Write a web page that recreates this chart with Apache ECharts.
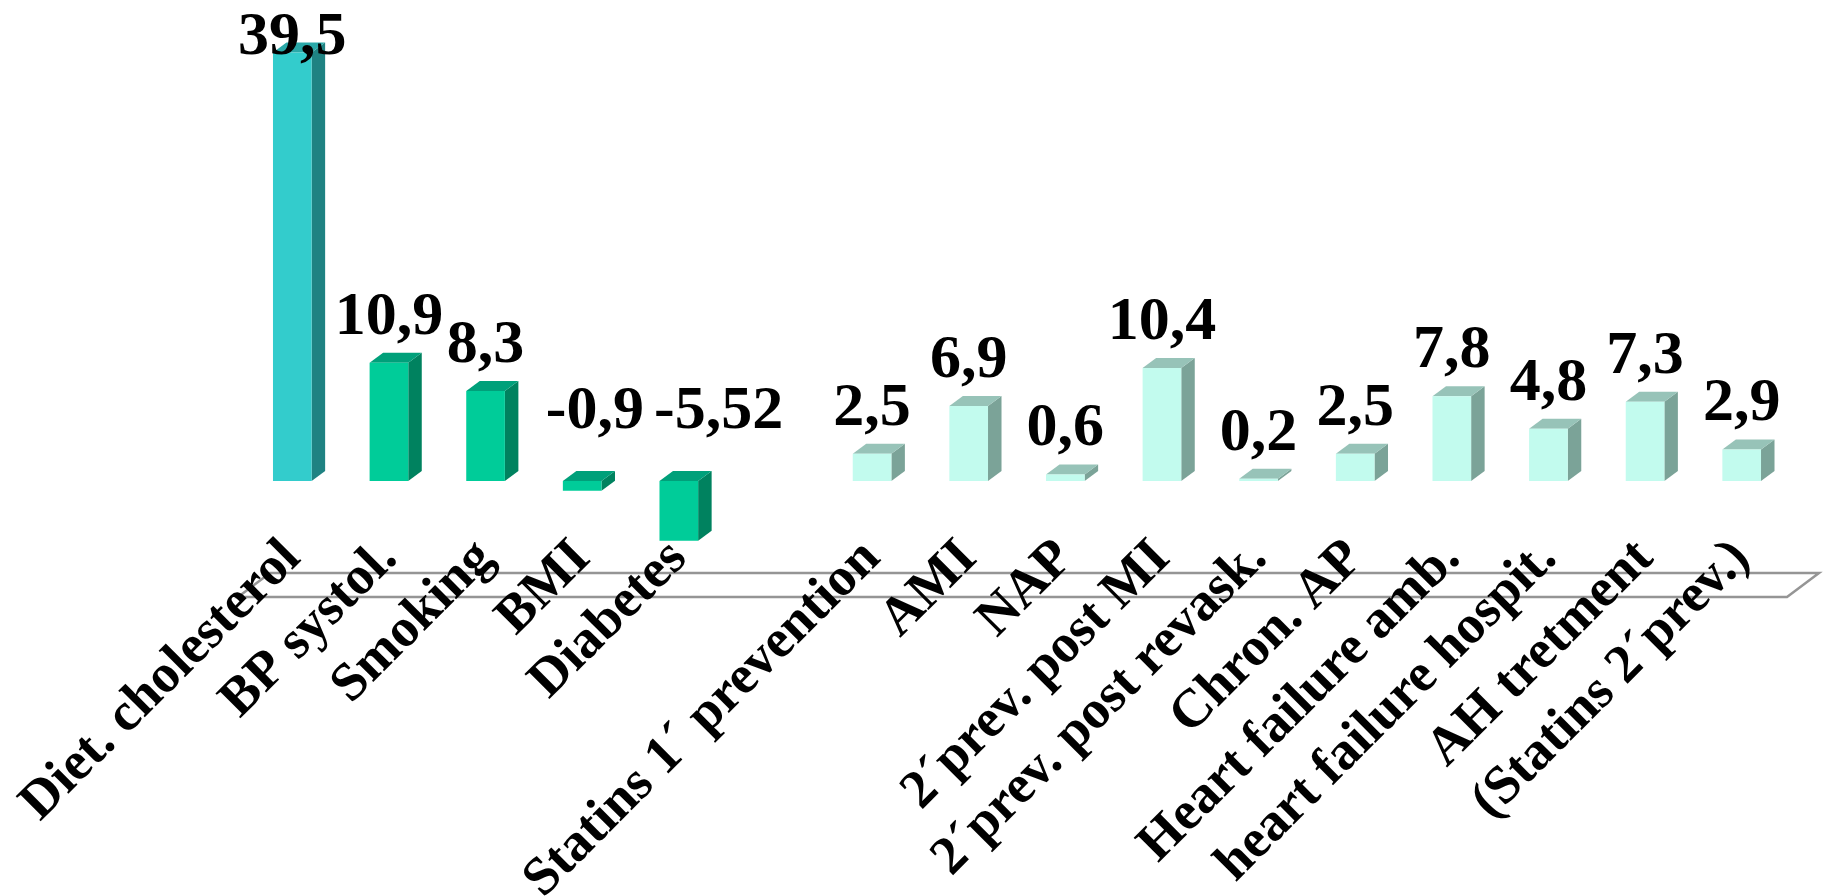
<!DOCTYPE html>
<html>
<head>
<meta charset="utf-8">
<script src="https://cdn.jsdelivr.net/npm/echarts@6/dist/echarts.min.js"></script>
<style>
  html, body { margin: 0; padding: 0; background: #fff; }
  #chart { width: 1830px; height: 896px; }
</style>
</head>
<body>
<div id="chart"></div>
<script>
// Categories along the floor (one empty slot separates risk factors from treatments)
const categories = [
  'Diet. cholesterol', 'BP systol.', 'Smoking', 'BMI', 'Diabetes', '',
  'Statins 1´ prevention', 'AMI', 'NAP', '2´prev. post MI', '2´prev. post revask.',
  'Chron. AP', 'Heart failure amb.', 'heart failure hospit.', 'AH tretment', '(Statins 2´prev.)'
];
// Value for each category (null = empty slot)
const values = [39.5, 10.9, 8.3, -0.9, -5.52, null, 2.5, 6.9, 0.6, 10.4, 0.2, 2.5, 7.8, 4.8, 7.3, 2.9];
// Group each category belongs to (drives the bar colour)
const groups = ['diet', 'risk', 'risk', 'risk', 'risk', '',
  'treatment', 'treatment', 'treatment', 'treatment', 'treatment',
  'treatment', 'treatment', 'treatment', 'treatment', 'treatment'];

const FONT = '"Liberation Serif", "Times New Roman", serif';
const LABEL_SIZE = 62;
const palette = {
  diet:      { front: '#33CCCC', top: '#2AA8A8', side: '#1F8282' },
  risk:      { front: '#00CC99', top: '#00A07A', side: '#00825F' },
  treatment: { front: '#C2FBEE', top: '#97C3B8', side: '#7BA398' }
};
const DEPTH_X = 13.5, DEPTH_Y = 10;

const GRID = { left: 244, right: 40, top: 47, bottom: 299, outerBoundsMode: 'none', containLabel: false };

const fmt = v => String(v).replace('.', ',');

const measureCtx = document.createElement('canvas').getContext('2d');
function textWidth(s) {
  measureCtx.font = 'bold ' + LABEL_SIZE + 'px ' + FONT;
  return measureCtx.measureText(s).width;
}

const data = values
  .map((v, i) => [i, v])
  .filter(d => d[1] !== null);

// Left edge of a negative bar's label; pushed right so it never runs into
// the label of a negative neighbour on its left.
function negLabelLeft(i, api) {
  const bw = api.size([1, 0])[0] * 0.4;
  let x = api.coord([i, 0])[0] - bw / 2 - 17;
  if (i > 0 && values[i - 1] !== null && values[i - 1] < 0) {
    const prev = negLabelLeft(i - 1, api);
    x = Math.max(x, prev + textWidth(fmt(values[i - 1])) + 10);
  }
  return x;
}

function renderBar(params, api) {
  const idx = api.value(0);
  const v = api.value(1);
  const col = palette[groups[idx]];
  const zero = api.coord([idx, 0]);
  const end = api.coord([idx, v]);
  const bw = api.size([1, 0])[0] * 0.4;
  const left = zero[0] - bw / 2;
  const right = zero[0] + bw / 2;
  const top = Math.min(zero[1], end[1]);
  const bottom = Math.max(zero[1], end[1]);

  const children = [
    { type: 'polygon', shape: { points: [[right, top], [right + DEPTH_X, top - DEPTH_Y], [right + DEPTH_X, bottom - DEPTH_Y], [right, bottom]] },
      style: { fill: col.side } },
    { type: 'polygon', shape: { points: [[left, top], [left + DEPTH_X, top - DEPTH_Y], [right + DEPTH_X, top - DEPTH_Y], [right, top]] },
      style: { fill: col.top } },
    { type: 'rect', shape: { x: left, y: top, width: bw, height: bottom - top },
      style: { fill: col.front } }
  ];

  // Value label: above the bar top; negatives sit above the zero plane
  let tx, ty, align;
  if (v >= 0) {
    tx = zero[0];
    ty = Math.max(top - DEPTH_Y - 4, 69);
    align = 'center';
  } else {
    tx = negLabelLeft(idx, api);
    ty = top - DEPTH_Y - 28;
    align = 'left';
  }
  children.push({
    type: 'text', z2: 100,
    style: {
      text: fmt(v), x: tx, y: ty, align: align, verticalAlign: 'bottom',
      fontFamily: FONT, fontWeight: 'bold', fontSize: LABEL_SIZE, fill: '#000'
    }
  });
  return { type: 'group', children };
}

const chart = echarts.init(document.getElementById('chart'));

const gL = GRID.left, gR = 1830 - GRID.right, gB = 896 - GRID.bottom;

chart.setOption({
  animation: false,
  backgroundColor: '#fff',
  grid: GRID,
  xAxis: {
    type: 'category',
    data: categories,
    boundaryGap: true,
    axisLine: { show: false },
    axisTick: { show: false },
    axisLabel: {
      interval: 0, rotate: 45, margin: -47,
      fontFamily: FONT, fontWeight: 'bold', fontSize: 54, color: '#000'
    }
  },
  yAxis: {
    type: 'value', min: -10.7, max: 40, show: false
  },
  graphic: [{
    type: 'polygon', z: -1, silent: true,
    shape: { points: [[gL - 6, gB], [gR - 3, gB], [gR + 29, gB - 24], [gL + 26, gB - 24]] },
    style: { fill: '#fff', stroke: '#959595', lineWidth: 2.5 }
  }],
  series: [{
    type: 'custom',
    renderItem: renderBar,
    data: data,
    encode: { x: 0, y: 1 },
    clip: false
  }]
});
</script>
</body>
</html>
